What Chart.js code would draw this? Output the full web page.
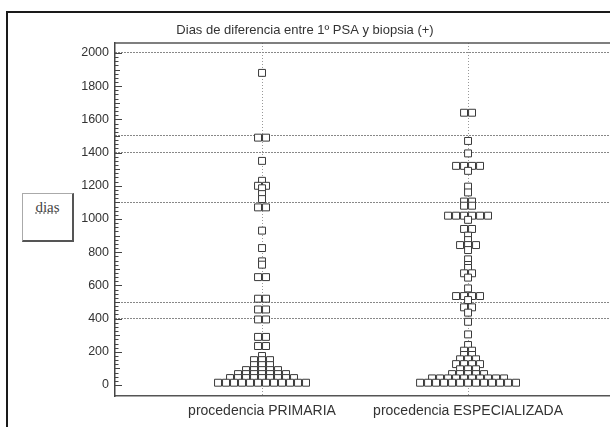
<!DOCTYPE html>
<html><head><meta charset="utf-8">
<script src="https://cdn.jsdelivr.net/npm/chart.js@4"></script>
<style>
html,body{margin:0;padding:0;background:#fff;overflow:hidden;}
#wrap{position:relative;width:610px;height:427px;overflow:hidden;background:#fff;}
#frame{position:absolute;left:6px;top:11px;width:700px;height:500px;border-left:2px solid #1a1a1a;border-top:2px solid #1a1a1a;}
#legend{position:absolute;left:22px;top:193px;width:52px;height:49px;border:1px solid #aaa;border-right:2px solid #555;border-bottom:2px solid #555;box-sizing:border-box;background:#fff;}
#legend span{position:absolute;left:0;right:0;top:5px;text-align:center;font:15px "Liberation Serif";color:#444;text-decoration:underline dotted #888;}
canvas{position:absolute;left:0;top:0;}
</style></head>
<body><div id="wrap"><div id="frame"></div><canvas id="c" width="610" height="427"></canvas><div id="legend"><span>dias</span></div></div>
<script>
const categories = ['procedencia PRIMARIA', 'procedencia ESPECIALIZADA'];
const titleText = 'Dias de diferencia entre 1º PSA y biopsia (+)';
const yTickValues = [0,200,400,600,800,1000,1200,1400,1600,1800,2000];
const refLines = [400,500,1100,1400,1500,2000];

const primaria = [
  1880,
  1490,1490,
  1350,
  1230,
  1200,1200,1185,
  1150,1120,
  1070,1070,
  930,
  825,
  745,725,
  650,650,
  520,520,
  455,455,
  395,395,
  290,290,
  235,235,
  175,
  150,150,150,
  120,120,120,
  90,90,90,90,90,
  66,66,66,66,66,66,66,
  42,42,42,42,42,42,42,42,42,
  14,14,14,14,14,14,14,14,14,14,14,14
];
const especializada = [
  1640,1640,
  1470,
  1395,
  1320,1320,1320,1320,1290,
  1195,
  1160,
  1105,1105,
  1080,1080,
  1020,1020,1020,1020,1020,1020,
  995,
  940,940,
  900,
  873,
  843,843,843,
  813,
  757,
  723,
  705,
  673,673,
  647,
  582,
  536,536,536,536,
  512,
  468,468,
  436,
  381,
  305,
  241,
  207,207,
  181,181,
  155,155,155,
  126,126,126,126,
  95,95,95,
  66,66,66,66,66,
  40,40,40,40,40,40,40,40,40,40,
  14,14,14,14,14,14,14,14,14,14,14,14,14
];

const X_MIN = 0.2864, X_MAX = 2.689, Y_MIN = -66, Y_MAX = 2060;
const STEP = 8 * (X_MAX - X_MIN) / 495;

function swarm(values, center) {
  const groups = new Map();
  values.forEach(v => groups.set(v, (groups.get(v) || 0) + 1));
  const pts = [];
  groups.forEach((n, v) => {
    for (let i = 0; i < n; i++) pts.push({x: center + (i - (n - 1) / 2) * STEP, y: v});
  });
  return pts;
}

const pointStyle = {
  pointStyle: 'rect', pointRadius: 4.9, borderColor: '#3a3a3a', backgroundColor: '#fff',
  pointBorderWidth: 1, pointBackgroundColor: '#fff', pointBorderColor: '#3a3a3a', showLine: false
};

const framePlugin = {
  id: 'frameTicks',
  beforeDatasetsDraw(chart) {
    const {ctx, chartArea: a, scales: {y}} = chart;
    ctx.save();
    ctx.strokeStyle = '#555'; ctx.lineWidth = 1.5;
    ctx.beginPath(); ctx.moveTo(a.left, a.top); ctx.lineTo(a.right, a.top); ctx.stroke();
    ctx.strokeStyle = '#444'; ctx.lineWidth = 1;
    for (let v = 0; v <= 2000; v += 25) {
      const py = Math.round(y.getPixelForValue(v)) + 0.5;
      const len = v % 200 === 0 ? 7 : (v % 100 === 0 ? 5 : 3.5);
      ctx.beginPath(); ctx.moveTo(a.left, py); ctx.lineTo(a.left + len, py); ctx.stroke();
    }
    ctx.restore();
  }
};

new Chart(document.getElementById('c'), {
  type: 'scatter',
  data: { datasets: [
    Object.assign({data: swarm(primaria, 1)}, pointStyle),
    Object.assign({data: swarm(especializada, 2)}, pointStyle)
  ]},
  plugins: [framePlugin],
  options: {
    responsive: false, animation: false, devicePixelRatio: 1,
    layout: {padding: 0, autoPadding: false},
    plugins: {
      legend: {display: false}, tooltip: {enabled: false},
      title: {display: true, text: titleText, color: '#333',
        font: {family: 'Liberation Sans', size: 13, weight: 'normal'},
        padding: {top: 23, bottom: 4.4}}
    },
    scales: {
      x: {
        type: 'linear', min: X_MIN, max: X_MAX,
        afterBuildTicks: s => { s.ticks = categories.map((c, i) => ({value: i + 1})); },
        ticks: {callback: v => categories[Math.round(v) - 1], color: '#333',
          font: {family: 'Liberation Sans', size: 14}, padding: 7, maxRotation: 0, autoSkip: false},
        grid: {color: '#999', drawTicks: false, lineWidth: 1},
        border: {display: true, color: '#555', width: 1.5, dash: [1, 2]},
        afterFit: s => { s.height = 31; }
      },
      y: {
        type: 'linear', min: Y_MIN, max: Y_MAX, position: 'left',
        afterBuildTicks: s => { s.ticks = yTickValues.map(v => ({value: v})); },
        ticks: {color: '#333', font: {family: 'Liberation Sans', size: 12.5}, padding: 6, callback: v => String(v)},
        grid: {display: false, drawTicks: false},
        border: {display: true, color: '#444', width: 1.5},
        afterFit: s => { s.width = 115; }
      },
      y2: {
        type: 'linear', min: Y_MIN, max: Y_MAX, position: 'right',
        afterBuildTicks: s => { s.ticks = refLines.map(v => ({value: v})); },
        ticks: {display: false},
        grid: {color: '#888', drawTicks: false, lineWidth: 1},
        border: {display: false, dash: [2, 1]},
        afterFit: s => { s.width = 0; }
      }
    }
  }
});
</script>
</body></html>
